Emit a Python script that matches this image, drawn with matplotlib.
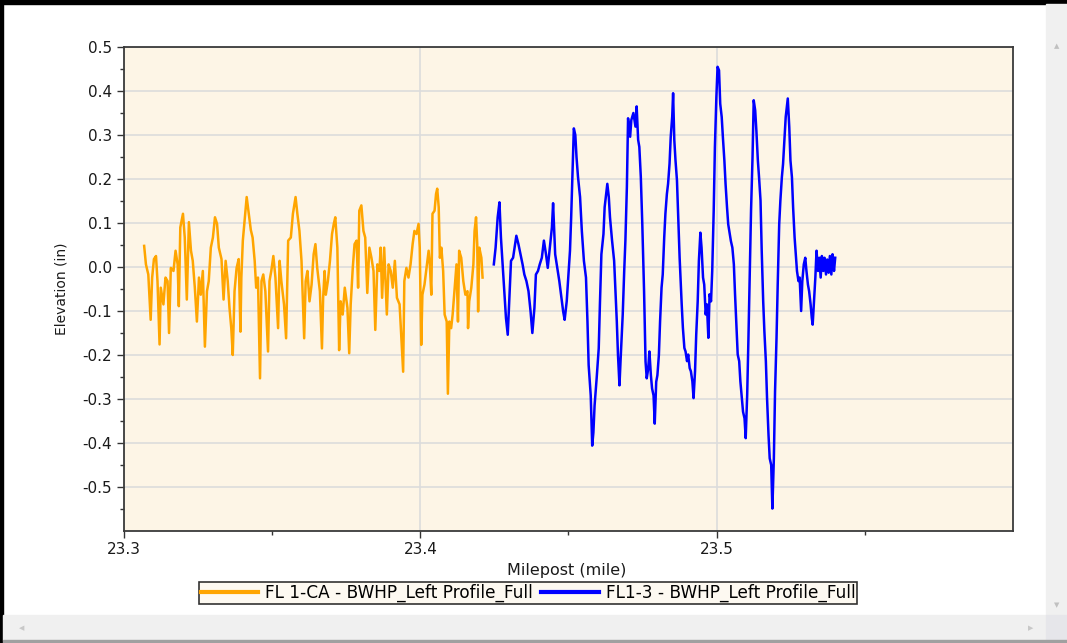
import matplotlib
matplotlib.use('Agg')
import matplotlib.pyplot as plt
from matplotlib.patches import Rectangle
from matplotlib.ticker import FixedLocator

# FL 1-CA profile (orange)
mp_ca = [23.3068, 23.3074, 23.3082, 23.3090, 23.3095, 23.3101, 23.3108, 23.3113, 23.3120, 23.3124,
         23.3133, 23.3140, 23.3147, 23.3152, 23.3158, 23.3167, 23.3174, 23.3181, 23.3185, 23.3190,
         23.3199, 23.3205, 23.3212, 23.3219, 23.3226, 23.3232, 23.3239, 23.3246, 23.3253, 23.3259,
         23.3266, 23.3273, 23.3280, 23.3286, 23.3293, 23.3300, 23.3307, 23.3314, 23.3320, 23.3329,
         23.3336, 23.3343, 23.3350, 23.3356, 23.3362, 23.3367, 23.3373, 23.3380, 23.3387, 23.3393,
         23.3396, 23.3401, 23.3407, 23.3414, 23.3421, 23.3428, 23.3434, 23.3441, 23.3446, 23.3452,
         23.3459, 23.3464, 23.3470, 23.3477, 23.3486, 23.3491, 23.3497, 23.3504, 23.3511, 23.3520,
         23.3525, 23.3531, 23.3540, 23.3547, 23.3554, 23.3563, 23.3570, 23.3579, 23.3585, 23.3592,
         23.3599, 23.3608, 23.3613, 23.3619, 23.3626, 23.3633, 23.3640, 23.3646, 23.3652, 23.3661,
         23.3668, 23.3672, 23.3677, 23.3681, 23.3688, 23.3695, 23.3702, 23.3708, 23.3713, 23.3720,
         23.3726, 23.3731, 23.3738, 23.3745, 23.3754, 23.3760, 23.3765, 23.3772, 23.3778, 23.3785,
         23.3790, 23.3794, 23.3801, 23.3808, 23.3814, 23.3821, 23.3828, 23.3835, 23.3842, 23.3848,
         23.3855, 23.3862, 23.3866, 23.3871, 23.3878, 23.3887, 23.3893, 23.3900, 23.3907, 23.3914,
         23.3921, 23.3930, 23.3934, 23.3942, 23.3946, 23.3953, 23.3960, 23.3967, 23.3974, 23.3980,
         23.3987, 23.3994, 23.3998, 23.4003, 23.4007, 23.4014, 23.4021, 23.4028, 23.4032, 23.4037,
         23.4041, 23.4048, 23.4053, 23.4057, 23.4062, 23.4066, 23.4071, 23.4077, 23.4082, 23.4089,
         23.4093, 23.4098, 23.4104, 23.4109, 23.4116, 23.4122, 23.4127, 23.4131, 23.4138, 23.4145,
         23.4152, 23.4159, 23.4161, 23.4165, 23.4172, 23.4179, 23.4183, 23.4188, 23.4192, 23.4195,
         23.4199, 23.4206, 23.4210]
elev_ca = [0.048, 0.006, -0.017, -0.120, -0.024, 0.018, 0.025, -0.032, -0.176, -0.047,
           -0.085, -0.024, -0.032, -0.150, -0.002, -0.009, 0.037, 0.006, -0.089, 0.090,
           0.121, 0.067, -0.074, 0.102, 0.037, 0.014, -0.047, -0.124, -0.024, -0.063,
           -0.009, -0.181, -0.055, -0.032, 0.044, 0.067, 0.113, 0.098, 0.044, 0.018,
           -0.074, 0.014, -0.032, -0.093, -0.139, -0.200, -0.055, -0.002, 0.018, -0.147,
           -0.024, 0.060, 0.105, 0.159, 0.121, 0.084, 0.067, 0.014, -0.047, -0.024,
           -0.253, -0.032, -0.017, -0.055, -0.192, -0.032, -0.009, 0.025, -0.024, -0.139,
           0.014, -0.032, -0.085, -0.162, 0.060, 0.067, 0.121, 0.159, 0.121, 0.082,
           0.014, -0.162, -0.032, -0.009, -0.078, -0.040, 0.029, 0.052, -0.002, -0.055,
           -0.185, -0.070, -0.009, -0.063, -0.032, 0.014, 0.075, 0.098, 0.113, 0.044,
           -0.189, -0.078, -0.108, -0.047, -0.093, -0.196, -0.085, -0.002, 0.052, 0.060,
           -0.047, 0.128, 0.140, 0.082, 0.067, -0.059, 0.044, 0.021, -0.009, -0.143,
           0.006, -0.009, 0.044, -0.070, 0.044, -0.108, 0.006, -0.009, -0.047, 0.014,
           -0.070, -0.085, -0.135, -0.238, -0.032, -0.002, -0.024, 0.006, 0.052, 0.082,
           0.075, 0.098, 0.044, -0.177, -0.063, -0.040, -0.002, 0.037, 0.006, -0.063,
           0.121, 0.128, 0.166, 0.178, 0.136, 0.021, 0.044, -0.009, -0.108, -0.124,
           -0.288, -0.124, -0.139, -0.108, -0.047, 0.006, -0.124, 0.037, 0.021, -0.032,
           -0.063, -0.055, -0.139, -0.078, -0.047, 0.006, 0.082, 0.113, 0.052, -0.101,
           0.044, 0.021, -0.024]

# FL1-3 profile (blue)
mp_13 = [23.4248, 23.4254, 23.4261, 23.4267, 23.4272, 23.4279, 23.4284, 23.4289, 23.4295, 23.4301,
         23.4306, 23.4313, 23.4318, 23.4324, 23.4331, 23.4338, 23.4345, 23.4351, 23.4358, 23.4365,
         23.4372, 23.4378, 23.4385, 23.4390, 23.4397, 23.4403, 23.4410, 23.4417, 23.4424, 23.4430,
         23.4437, 23.4444, 23.4448, 23.4455, 23.4462, 23.4469, 23.4475, 23.4482, 23.4487, 23.4494,
         23.4500, 23.4505, 23.4509, 23.4514, 23.4518, 23.4523, 23.4527, 23.4532, 23.4539, 23.4545,
         23.4552, 23.4559, 23.4564, 23.4568, 23.4575, 23.4580, 23.4584, 23.4588, 23.4595, 23.4602,
         23.4606, 23.4611, 23.4618, 23.4622, 23.4627, 23.4631, 23.4636, 23.4640, 23.4647, 23.4654,
         23.4658, 23.4663, 23.4667, 23.4672, 23.4676, 23.4683, 23.4688, 23.4692, 23.4697, 23.4701,
         23.4708, 23.4712, 23.4719, 23.4726, 23.4730, 23.4735, 23.4739, 23.4744, 23.4749, 23.4755,
         23.4760, 23.4764, 23.4769, 23.4773, 23.4778, 23.4782, 23.4787, 23.4791, 23.4796, 23.4800,
         23.4805, 23.4809, 23.4814, 23.4818, 23.4823, 23.4827, 23.4832, 23.4836, 23.4841, 23.4845,
         23.4850, 23.4853, 23.4857, 23.4861, 23.4866, 23.4870, 23.4875, 23.4882, 23.4886, 23.4891,
         23.4895, 23.4900, 23.4904, 23.4909, 23.4913, 23.4918, 23.4922, 23.4927, 23.4931, 23.4936,
         23.4940, 23.4945, 23.4949, 23.4954, 23.4958, 23.4963, 23.4967, 23.4972, 23.4976, 23.4981,
         23.4985, 23.4990, 23.4994, 23.4999, 23.5003, 23.5008, 23.5012, 23.5017, 23.5021, 23.5026,
         23.5030, 23.5035, 23.5039, 23.5044, 23.5048, 23.5053, 23.5058, 23.5062, 23.5067, 23.5071,
         23.5076, 23.5080, 23.5085, 23.5089, 23.5094, 23.5098, 23.5103, 23.5107, 23.5112, 23.5116,
         23.5121, 23.5125, 23.5130, 23.5134, 23.5139, 23.5143, 23.5148, 23.5152, 23.5157, 23.5161,
         23.5166, 23.5170, 23.5175, 23.5179, 23.5184, 23.5188, 23.5193, 23.5197, 23.5202, 23.5206,
         23.5211, 23.5215, 23.5220, 23.5224, 23.5229, 23.5233, 23.5238, 23.5240, 23.5245, 23.5249,
         23.5254, 23.5258, 23.5263, 23.5267, 23.5271, 23.5276, 23.5280, 23.5285, 23.5289, 23.5294,
         23.5299, 23.5303, 23.5308, 23.5312, 23.5317, 23.5321, 23.5324, 23.5328, 23.5333, 23.5337,
         23.5342, 23.5346, 23.5351, 23.5355, 23.5360, 23.5364, 23.5369, 23.5373, 23.5378, 23.5382,
         23.5387, 23.5391, 23.5396, 23.5400]
elev_13 = [0.006, 0.044, 0.113, 0.147, 0.067, -0.009, -0.063, -0.116, -0.154, -0.063,
           0.014, 0.021, 0.044, 0.071, 0.052, 0.029, 0.006, -0.017, -0.032, -0.055,
           -0.101, -0.150, -0.093, -0.017, -0.009, 0.006, 0.021, 0.060, 0.029, -0.002,
           0.044, 0.090, 0.145, 0.029, -0.002, -0.032, -0.063, -0.101, -0.120, -0.078,
           -0.017, 0.037, 0.113, 0.227, 0.315, 0.300, 0.250, 0.205, 0.159, 0.082,
           0.014, -0.024, -0.124, -0.223, -0.292, -0.406, -0.376, -0.315, -0.253, -0.185,
           -0.085, 0.029, 0.075, 0.136, 0.166, 0.189, 0.159, 0.113, 0.060, 0.014,
           -0.047, -0.124, -0.200, -0.269, -0.208, -0.108, -0.009, 0.060, 0.182, 0.338,
           0.296, 0.334, 0.350, 0.319, 0.365, 0.289, 0.273, 0.205, 0.098, -0.055,
           -0.215, -0.253, -0.231, -0.192, -0.246, -0.276, -0.292, -0.356, -0.261, -0.246,
           -0.200, -0.124, -0.047, -0.017, 0.067, 0.121, 0.166, 0.189, 0.235, 0.296,
           0.342, 0.395, 0.289, 0.243, 0.197, 0.121, 0.021, -0.085, -0.138, -0.184,
           -0.192, -0.214, -0.199, -0.230, -0.237, -0.260, -0.298, -0.237, -0.154, -0.078,
           0.014, 0.078, 0.044, -0.024, -0.040, -0.108, -0.085, -0.161, -0.062, -0.078,
           -0.009, 0.128, 0.272, 0.386, 0.455, 0.447, 0.371, 0.341, 0.295, 0.242,
           0.189, 0.135, 0.097, 0.075, 0.059, 0.044, 0.006, -0.062, -0.138, -0.199,
           -0.214, -0.260, -0.298, -0.329, -0.344, -0.389, -0.290, -0.169, -0.002, 0.128,
           0.249, 0.379, 0.356, 0.310, 0.242, 0.204, 0.151, 0.037, -0.078, -0.146,
           -0.214, -0.298, -0.382, -0.435, -0.450, -0.549, -0.435, -0.283, -0.161, -0.040,
           0.097, 0.151, 0.204, 0.234, 0.295, 0.341, 0.371, 0.383, 0.318, 0.242,
           0.204, 0.135, 0.067, 0.029, -0.009, -0.032, -0.024, -0.100, -0.032, 0.006,
           0.021, -0.009, -0.040, -0.055, -0.085, -0.116, -0.131, -0.085, -0.024, 0.037,
           -0.009, 0.021, -0.024, 0.025, -0.009, 0.021, -0.017, 0.017, -0.013, 0.025,
           -0.017, 0.029, -0.009, 0.021]

x_ticks = [23.3, 23.4, 23.5]
y_ticks = [-0.5, -0.4, -0.3, -0.2, -0.1, 0.0, 0.1, 0.2, 0.3, 0.4, 0.5]

plt.rcParams['font.family'] = ['DejaVu Sans']

fig = plt.figure(figsize=(10.67, 6.43), dpi=100)
fig.patch.set_facecolor('white')

# window chrome: borders and scrollbars
W, H = 1067, 643
fig.add_artist(Rectangle((0, 1 - 4 / H), 1, 4 / H, transform=fig.transFigure, color='black', zorder=0))
fig.add_artist(Rectangle((0, 0), 3 / W, 1, transform=fig.transFigure, color='black', zorder=0))
fig.add_artist(Rectangle((1046 / W, 0), 21 / W, 1 - 4 / H, transform=fig.transFigure,
                         color='#f0f0f0', zorder=0))
fig.add_artist(Rectangle((3 / W, 3 / H), 1043 / W, 25 / H, transform=fig.transFigure,
                         color='#f0f0f0', zorder=0))
fig.add_artist(Rectangle((1046 / W, 3 / H), 21 / W, 25 / H, transform=fig.transFigure,
                         color='#e6e6ea', zorder=0))
fig.add_artist(Rectangle((3 / W, 0), 1 - 3 / W, 3 / H, transform=fig.transFigure,
                         color='#a0a0a0', zorder=0))
fig.text(1057 / W, 1 - 46 / H, '\u25b2', fontsize=5, color='#c0c0c0', ha='center', va='center')
fig.text(1057 / W, 1 - 605 / H, '\u25bc', fontsize=5, color='#c0c0c0', ha='center', va='center')
fig.text(22 / W, 1 - 628 / H, '\u25c0', fontsize=5, color='#c8c8c8', ha='center', va='center')
fig.text(1031 / W, 1 - 628 / H, '\u25b6', fontsize=5, color='#c8c8c8', ha='center', va='center')

ax = fig.add_axes([124 / W, 1 - 531 / H, (1013 - 124) / W, (531 - 47) / H])
ax.set_facecolor('#fdf5e6')

ax.plot(mp_ca, elev_ca, color='#ffa500', lw=1.8, label='FL 1-CA - BWHP_Left Profile_Full')
ax.plot(mp_13, elev_13, color='#0000ff', lw=1.8, label='FL1-3 - BWHP_Left Profile_Full')

ax.set_xlim(23.3, 23.6)
ax.set_ylim(-0.6, 0.5)
ax.set_xticks(x_ticks)
ax.set_xticklabels(['%.1f' % v for v in x_ticks])
ax.xaxis.set_minor_locator(FixedLocator([23.35, 23.45, 23.55]))
ax.set_yticks(y_ticks)
ax.set_yticklabels(['%.1f' % v for v in y_ticks])
ax.yaxis.set_minor_locator(FixedLocator([v + 0.05 for v in y_ticks[:-1]] + [-0.55]))

ax.grid(True, which='major', color='#dcdcdc', lw=1.2)
ax.set_axisbelow(True)
ax.tick_params(axis='both', which='major', length=5, width=1, color='#333333',
               labelsize=11, labelcolor='#1a1a1a')
ax.tick_params(axis='both', which='minor', length=3, width=1, color='#333333')
ax.tick_params(axis='x', pad=3)
for s in ax.spines.values():
    s.set_color('#3a3a3a')
    s.set_linewidth(1.3)

ax.set_ylabel('Elevation (in)', fontsize=10, color='#1a1a1a', labelpad=10)
fig.text(567 / W, 1 - 570 / H, 'Milepost (mile)', fontsize=11.5, color='#1a1a1a',
         ha='center', va='center')

leg = fig.legend(loc='center', bbox_to_anchor=(528 / W, 1 - 593 / H), ncol=2,
                 fontsize=12.2, frameon=True, fancybox=False, handlelength=3.4,
                 handletextpad=0.4, columnspacing=0.5, borderpad=0.1)
leg.get_frame().set_edgecolor('black')
leg.get_frame().set_linewidth(1.2)
leg.get_frame().set_facecolor('#fdf8ee')
for line in leg.get_lines():
    line.set_linewidth(3)

fig.savefig('out.png', dpi=100)
